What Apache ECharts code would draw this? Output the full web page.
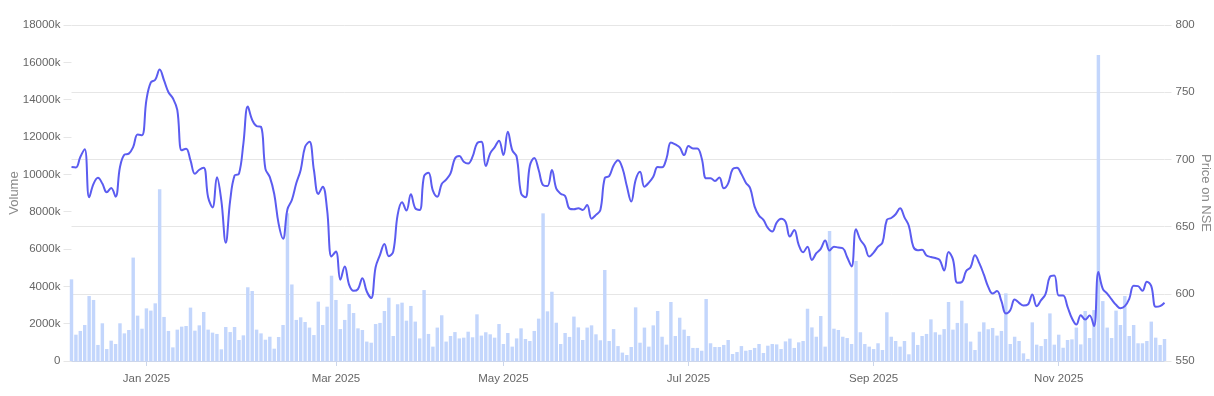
<!DOCTYPE html>
<html>
<head>
<meta charset="utf-8">
<script src="https://cdn.jsdelivr.net/npm/echarts@6/dist/echarts.min.js"></script>
<style>
html,body{margin:0;padding:0;background:#fff;}
#chart{width:1214px;height:396px;}
</style>
</head>
<body>
<div id="chart"></div>
<script>
// Trading calendar (NSE): weekdays between start and end, minus holidays, plus special sessions
const startDate = '2024-12-06';
const endDate = '2025-12-08';
const holidays = ['2024-12-25','2025-02-26','2025-03-14','2025-03-31','2025-04-10','2025-04-14',
  '2025-04-18','2025-05-01','2025-08-15','2025-08-27','2025-10-02','2025-10-21','2025-10-22','2025-11-05'];
const specialSessions = ['2025-02-01'];

// Volume in thousands (one value per trading day)
const volume = [
  4375,1410,1610,1930,3480,3270,860,2020,640,1090,
  910,2020,1480,1660,5540,2430,1730,2820,2700,3090,
  9200,2360,1610,730,1680,1840,1875,2860,1625,1910,
  2625,1680,1520,1450,625,1820,1550,1820,1125,1375,
  3950,3750,1680,1480,1140,1300,660,1285,1930,7910,
  4100,2200,2340,2090,1790,1390,3180,1930,2910,4570,
  3270,1710,2200,3050,2570,1750,1660,1040,980,1980,
  2040,2680,3390,1340,3040,3125,2160,2950,2110,1210,
  3800,1450,770,1790,2450,1040,1340,1550,1210,1250,
  1570,1270,2500,1360,1540,1430,1250,1980,910,1500,
  770,1210,1750,1180,1070,1610,2270,7910,2660,3710,
  2050,910,1500,1290,2380,1800,1125,1790,1910,1430,
  1110,4875,1070,1710,800,450,320,750,2875,980,
  1790,770,1910,2680,1300,875,3160,1340,2320,1680,
  1340,700,700,550,3320,950,750,750,860,1125,
  375,480,800,550,590,700,910,430,820,910,
  890,640,1050,1200,700,1000,1070,2800,1800,1300,
  2410,770,6960,1730,1660,1300,1230,910,5360,1540,
  910,770,640,950,590,2610,1300,1070,770,1070,
  360,1540,860,1340,1450,2230,1540,1410,1710,3160,
  1680,2040,3230,2020,1040,590,1570,2070,1700,1770,
  1360,1610,3625,910,1300,1070,410,110,2070,875,
  800,1180,2550,875,1410,710,1125,1160,1790,890,
  2680,1230,2730,16390,3210,1790,1230,2700,1930,3480,
  1340,1930,950,950,1070,2110,1250,860,1180
];

// Closing price on NSE
const price = [
  694.3,694.0,701.8,707.5,671.8,681.8,686.3,682.0,675.5,678.8,
  672.3,694.3,703.5,704.3,709.3,718.5,718.0,744.3,757.3,759.3,
  766.8,758.8,750.0,745.5,736.8,706.8,708.0,699.3,689.3,692.3,
  693.8,671.8,664.3,686.8,669.3,638.0,669.3,688.0,689.3,711.8,
  739.3,729.3,724.8,724.3,693.0,686.8,674.3,652.0,641.0,662.9,
  669.8,682.2,692.1,709.4,713.1,692.1,674.3,679.7,662.4,627.7,
  631.4,610.4,620.3,606.7,602.2,603.5,611.6,601.7,596.8,619.8,
  629.0,637.1,628.0,631.4,658.7,668.1,661.9,674.0,663.6,662.4,
  687.6,690.1,676.7,672.3,681.7,684.9,689.6,700.7,702.5,698.3,
  697.0,702.0,711.9,713.1,695.0,704.5,709.0,713.9,703.2,720.5,
  706.9,702.0,674.8,671.8,695.3,701.0,692.1,680.9,680.2,692.1,
  678.2,674.5,672.8,663.4,662.9,663.6,662.4,666.1,655.9,658.7,
  662.4,686.1,687.6,695.5,699.3,693.6,680.2,668.6,684.7,690.8,
  679.7,682.7,687.1,694.3,694.1,700.7,712.6,711.1,708.9,703.2,
  709.9,708.2,708.2,700.7,685.9,686.0,683.9,686.6,678.5,682.2,
  692.6,693.8,689.1,682.7,678.5,664.9,658.2,655.0,649.0,646.3,
  653.0,655.9,653.7,642.6,647.5,636.4,630.9,635.1,625.2,630.2,
  633.4,639.6,632.2,635.1,634.4,633.9,627.2,620.3,648.0,640.1,
  635.6,627.7,630.7,635.1,638.1,655.0,656.4,659.2,663.6,656.9,
  650.5,635.1,632.4,632.7,628.5,627.4,626.6,625.1,617.4,631.1,
  625.6,608.2,608.7,616.9,619.7,628.6,622.6,614.4,605.2,600.2,
  602.0,594.5,585.3,587.8,595.8,593.3,591.3,592.0,599.5,590.8,
  595.3,599.8,612.7,613.7,598.8,598.8,590.3,581.8,577.1,584.1,
  580.8,583.8,575.9,616.2,603.7,600.2,595.8,591.8,589.3,590.8,
  596.3,606.0,605.7,602.2,609.0,605.7,590.3,590.8,593.3
];

// Left axis ticks (thousands) and right axis ticks
const volumeTicks = {min: 0, max: 18000, step: 2000};
const priceTicks = {min: 550, max: 800, step: 50};
const monthNames = ['Jan','Feb','Mar','Apr','May','Jun','Jul','Aug','Sep','Oct','Nov','Dec'];

function buildDates(s, e) {
  const out = [];
  const d = new Date(s + 'T00:00:00Z');
  const end = new Date(e + 'T00:00:00Z');
  while (d <= end) {
    const iso = d.toISOString().slice(0, 10);
    const wd = d.getUTCDay();
    if ((wd !== 0 && wd !== 6 && holidays.indexOf(iso) < 0) || specialSessions.indexOf(iso) >= 0) out.push(iso);
    d.setUTCDate(d.getUTCDate() + 1);
  }
  return out;
}
const categories = buildDates(startDate, endDate);

function isMonthLabel(idx) {
  if (idx <= 0) return false;
  const m = +categories[idx].slice(5, 7);
  const pm = +categories[idx - 1].slice(5, 7);
  return m !== pm && (m % 2 === 1);
}

const font = 'Liberation Sans, Arial, Helvetica, sans-serif';
const chart = echarts.init(document.getElementById('chart'), null, {renderer: 'canvas'});
chart.setOption({
  animation: false,
  backgroundColor: '#ffffff',
  grid: {left: 71.5, right: 49.5, top: 25, bottom: 35, containLabel: false, outerBoundsMode: 'none'},
  xAxis: {
    type: 'category',
    data: categories,
    boundaryGap: false,
    axisLine: {show: true, lineStyle: {color: '#ccd6eb', width: 1}},
    axisTick: {show: true, length: 5, lineStyle: {color: '#ccd6eb'}, interval: function (i) { return isMonthLabel(i); }},
    axisLabel: {
      interval: function (i) { return isMonthLabel(i); },
      formatter: function (v) { return monthNames[+v.slice(5, 7) - 1] + ' ' + v.slice(0, 4); },
      color: '#666666', fontSize: 11.5, fontFamily: font, margin: 12,
      hideOverlap: false
    },
    splitLine: {show: false}
  },
  yAxis: [
    {
      type: 'value',
      position: 'left',
      min: volumeTicks.min, max: volumeTicks.max, interval: volumeTicks.step,
      name: 'Volume',
      nameLocation: 'middle',
      nameRotate: 90,
      nameGap: 51,
      nameMoveOverlap: false,
      nameTextStyle: {color: '#8a8a8a', fontSize: 13, fontFamily: font},
      axisLine: {show: false},
      axisTick: {show: true, length: 8, lineStyle: {color: '#e6e6e6'}},
      axisLabel: {
        formatter: function (v) { return v === 0 ? '0' : String(v) + 'k'; },
        color: '#666666', fontSize: 11.5, fontFamily: font, margin: 11
      },
      splitLine: {show: false}
    },
    {
      type: 'value',
      position: 'right',
      min: priceTicks.min, max: priceTicks.max, interval: priceTicks.step,
      name: 'Price on NSE',
      nameLocation: 'middle',
      nameRotate: -90,
      nameGap: 35,
      nameMoveOverlap: false,
      nameTextStyle: {color: '#8a8a8a', fontSize: 13, fontFamily: font},
      axisLine: {show: false},
      axisTick: {show: true, length: 7, lineStyle: {color: '#e6e6e6'}},
      axisLabel: {color: '#666666', fontSize: 11.5, fontFamily: font, margin: 11},
      splitLine: {show: true, lineStyle: {color: '#e6e6e6', width: 1}}
    }
  ],
  series: [
    {
      name: 'Volume',
      type: 'bar',
      yAxisIndex: 0,
      data: volume,
      barCategoryGap: '22%',
      itemStyle: {color: '#c3d6fc'},
      clip: true,
      z: 2
    },
    {
      name: 'Price',
      type: 'line',
      yAxisIndex: 1,
      data: price,
      smooth: 0.4,
      showSymbol: false,
      symbol: 'none',
      lineStyle: {color: '#5b5cf0', width: 2},
      z: 3
    }
  ]
});
</script>
</body>
</html>
